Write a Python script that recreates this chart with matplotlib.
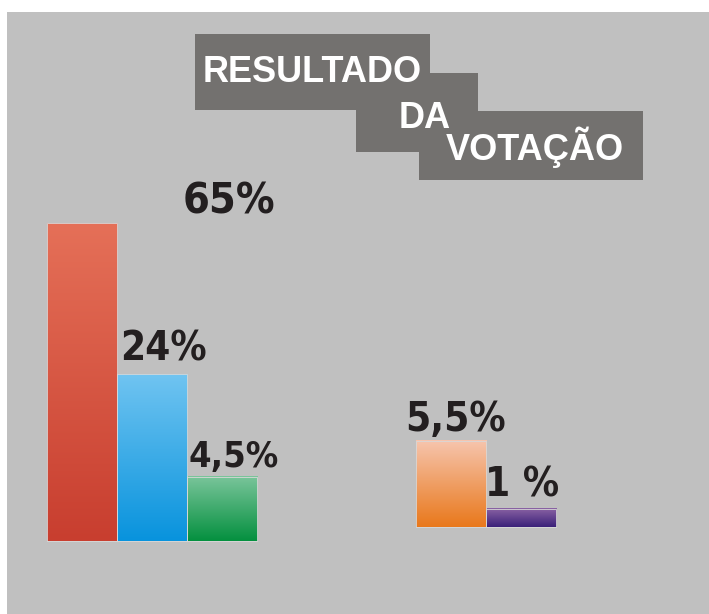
import matplotlib.pyplot as plt
import matplotlib.patches as mpatches
from matplotlib.colors import LinearSegmentedColormap
import numpy as np

# Dados (as barras do original nao estao em escala: alturas)
labels = ["65%", "24%", "4,5%", "5,5%", "1 %"]
heights = [65, 34.1, 13.1, 17.6, 3.7]
groups = [0, 0, 0, 1, 1]
title_words = ["RESULTADO", "DA", "VOTAÇÃO"]

# cores do degradê (topo, base)
grad_colors = [("#e57058", "#c83e2f"),
               ("#70c4f1", "#0893dd"),
               ("#7ac59b", "#04903f"),
               ("#f6c5ae", "#e9781b"),
               ("#8b63a4", "#3a2079")]

W, H = 709, 614
fig = plt.figure(figsize=(W / 100, H / 100), dpi=100)
fig.patch.set_facecolor("white")


def px(x0, y0, x1, y1):
    # retangulo em pixels (origem no topo) -> coordenadas da figura
    return (x0 / W, 1 - y1 / H), (x1 - x0) / W, (y1 - y0) / H


# painel cinza
xy, w, h = px(7, 12, 709, 614)
fig.patches.append(mpatches.Rectangle(xy, w, h, transform=fig.transFigure,
                                      facecolor="#c0c0c0", edgecolor="none", zorder=0))

# caixas do título
for box in [(195, 34, 430, 110), (356, 73, 478, 152), (419, 111, 643, 180)]:
    xy, w, h = px(*box)
    fig.patches.append(mpatches.Rectangle(xy, w, h, transform=fig.transFigure,
                                          facecolor="#73716f", edgecolor="none", zorder=1))

title_pos = [(312, 72), (425, 119), (535, 147)]
for word, (tx, ty) in zip(title_words, title_pos):
    fig.text(tx / W, 1 - ty / H, word, color="white", fontsize=26,
             fontweight="bold", family="Liberation Sans", ha="center", va="center")

# eixos sobre a figura inteira
ax = fig.add_axes([0, 0, 1, 1], zorder=5)
ax.set_facecolor("none")
ax.axis("off")

xpos = [0, 1, 2, 5.27, 6.27]
bottoms = [0 if g == 0 else 2.86 for g in groups]
bars = ax.bar(xpos, heights, width=1.0, bottom=bottoms, color="none",
              edgecolor="#d8d8d8", linewidth=0.6, zorder=3)

grad = np.linspace(0, 1, 256).reshape(-1, 1)
for bar, (top_c, bot_c) in zip(bars, grad_colors):
    x, y = bar.get_x(), bar.get_y()
    bw, bh = bar.get_width(), bar.get_height()
    cmap = LinearSegmentedColormap.from_list("g", [bot_c, top_c])
    ax.imshow(grad, extent=[x, x + bw, y, y + bh], origin="lower",
              cmap=cmap, aspect="auto", zorder=2)

# rótulos (deslocamentos em pixels em relação ao topo da barra)
offsets = [(147, 10), (11, 14), (12, 10), (5, 10), (1, 12)]
sizes = [31, 29, 26, 29, 29]
for bar, lab, (dx, dy), fs in zip(bars, labels, offsets, sizes):
    cx = bar.get_x() + bar.get_width() / 2
    top = bar.get_y() + bar.get_height()
    ax.annotate(lab, xy=(cx, top), xytext=(dx, dy), textcoords="offset pixels",
                ha="center", va="baseline", fontsize=fs, fontweight="bold",
                color="#231f20", family="DejaVu Sans", fontstretch="condensed")

ax.set_xlim(-1.171, 8.957)
ax.set_ylim(-14.92, 110.6)

fig.savefig("out.png", dpi=100, facecolor=fig.get_facecolor())
